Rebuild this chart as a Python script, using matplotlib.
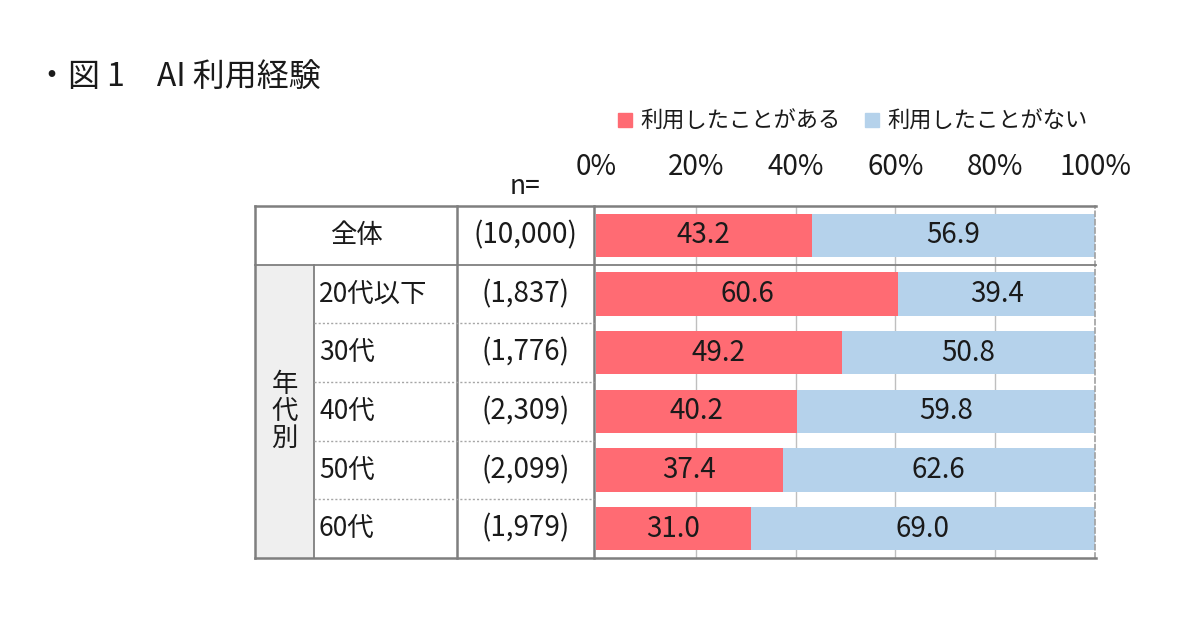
import matplotlib
matplotlib.use("Agg")
import matplotlib.pyplot as plt
from matplotlib.patches import Rectangle, Patch

plt.rcParams['font.family'] = ['Noto Sans CJK JP', 'DejaVu Sans']

# data
groups = ['全体', '20代以下', '30代', '40代', '50代', '60代']
n_labels = ['(10,000)', '(1,837)', '(1,776)', '(2,309)', '(2,099)', '(1,979)']
used = [43.2, 60.6, 49.2, 40.2, 37.4, 31.0]
not_used = [56.9, 39.4, 50.8, 59.8, 62.6, 69.0]
series_names = ['利用したことがある', '利用したことがない']
ticks = [0, 20, 40, 60, 80, 100]

red = '#FF6B73'
blue = '#B5D2EB'
border = '#7F7F7F'
txt = '#1A1A1A'
fs = 19

W, H = 1200, 630
fig = plt.figure(figsize=(12, 6.3), dpi=100)

def fx(x):
    return x / W

def fy(y):
    return 1 - y / H

# table geometry in pixels
x_left, x_age, x_n, x_bar, x_end = 255, 314, 457, 594, 1095
y_top, y_bottom = 206, 558
row_h = (y_bottom - y_top) / len(groups)
row_edges = [y_top + i * row_h for i in range(len(groups) + 1)]

# bar axes
ax = fig.add_axes([fx(596), fy(y_bottom), fx(x_end) - fx(596), (y_bottom - y_top) / H])
ax.patch.set_alpha(0)
ypos = list(range(len(groups)))
b1 = ax.barh(ypos, used, height=0.74, color=red, zorder=2)
b2 = ax.barh(ypos, not_used, left=used, height=0.74, color=blue, zorder=2)
for i in range(len(groups)):
    ax.text(used[i] / 2, i, f'{used[i]:.1f}', ha='center', va='center',
            fontsize=fs + 1, color=txt, zorder=3)
    ax.text(used[i] + not_used[i] / 2, i, f'{not_used[i]:.1f}', ha='center',
            va='center', fontsize=fs + 1, color=txt, zorder=3)
ax.set_xlim(0, 100)
ax.set_ylim(len(groups) - 0.5, -0.5)
ax.set_yticks([])
ax.set_xticks(ticks)
ax.set_xticklabels([f'{t}%' for t in ticks])
ax.xaxis.tick_top()
ax.tick_params(axis='x', length=0, pad=17, labelsize=fs + 1, labelcolor=txt)
for t in ticks[1:-1]:
    ax.axvline(t, color='#BFBFBF', lw=1, zorder=1)
for s in ['left', 'top', 'bottom']:
    ax.spines[s].set_visible(False)
ax.spines['right'].set_color('#A0A0A0')
ax.spines['right'].set_linestyle((0, (3, 2)))
ax.spines['right'].set_linewidth(1.2)

# overlay for the table frame
ov = fig.add_axes([0, 0, 1, 1], zorder=5)
ov.set_xlim(0, W)
ov.set_ylim(H, 0)
ov.axis('off')
ov.patch.set_alpha(0)
ov.add_patch(Rectangle((x_left, row_edges[1]), x_age - x_left, y_bottom - row_edges[1],
                       facecolor='#EFEFEF', edgecolor='none', zorder=0))
lw = 1.8
ov.plot([x_left, x_end + 1], [y_top, y_top], color=border, lw=lw)
ov.plot([x_left, x_end + 1], [y_bottom, y_bottom], color=border, lw=lw)
ov.plot([x_left, x_end + 1], [row_edges[1], row_edges[1]], color=border, lw=1.3)
ov.plot([x_left, x_left], [y_top, y_bottom], color=border, lw=lw)
ov.plot([x_age, x_age], [row_edges[1], y_bottom], color=border, lw=1.3)
ov.plot([x_n, x_n], [y_top, y_bottom], color=border, lw=lw)
ov.plot([x_bar, x_bar], [y_top, y_bottom], color=border, lw=lw)
for y in row_edges[2:-1]:
    ov.plot([x_age, x_bar], [y, y], color='#A6A6A6', lw=1, ls=(0, (1.5, 1.5)))

# table texts
for i, g in enumerate(groups):
    yc = (row_edges[i] + row_edges[i + 1]) / 2
    if i == 0:
        ov.text((x_left + x_n) / 2, yc, g, ha='center', va='center', fontsize=fs, color=txt)
    else:
        ov.text(x_age + 5, yc, g, ha='left', va='center', fontsize=fs, color=txt)
    ov.text((x_n + x_bar) / 2, yc, n_labels[i], ha='center', va='center', fontsize=fs + 1, color=txt)
ov.text((x_left + x_age) / 2, (row_edges[1] + y_bottom) / 2, '年\n代\n別', ha='center',
        va='center', fontsize=fs, color=txt, linespacing=1.0)
ov.text((x_n + x_bar) / 2, 187, 'n=', ha='center', va='center', fontsize=fs, color=txt)

# title
ov.text(36, 77, '・図 1　AI 利用経験', ha='left', va='center', fontsize=23, color=txt)

# legend
handles = [Patch(color=red), Patch(color=blue)]
fig.legend(handles, series_names, loc='center', bbox_to_anchor=(fx(853), fy(121)),
           ncol=2, frameon=False, fontsize=16, handlelength=0.6, handleheight=0.6,
           handletextpad=0.4, columnspacing=1.1, labelcolor=txt)

fig.savefig('out.png', dpi=100)
